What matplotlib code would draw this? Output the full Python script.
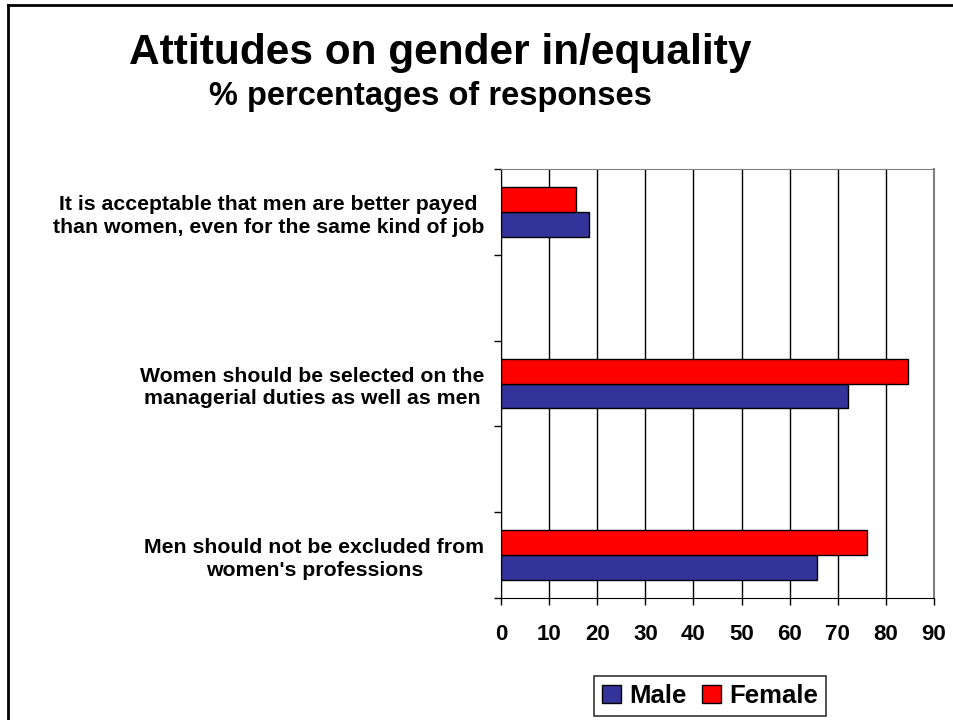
import matplotlib
matplotlib.use("Agg")
import matplotlib.pyplot as plt
from matplotlib.lines import Line2D
import numpy as np

plt.rcParams['font.family'] = ['Liberation Sans', 'DejaVu Sans']
plt.rcParams['font.weight'] = 'bold'

categories = [
    "It is acceptable that men are better payed\nthan women, even for the same kind of job",
    "Women should be selected on the\nmanagerial duties as well as men",
    "Men should not be excluded from\nwomen's professions",
]
male = [18.2, 72.1, 65.6]
female = [15.5, 84.6, 76.0]
x_ticks = [0, 10, 20, 30, 40, 50, 60, 70, 80, 90]

male_color = '#333399'
female_color = '#FF0000'

fig = plt.figure(figsize=(9.54, 7.2), dpi=100)
ax = fig.add_axes([501 / 954, 1 - 598 / 720, 433 / 954, 429 / 720])

# every category sits in every other slot, with an empty slot between
pos = np.arange(len(categories)) * 2
h = 0.29
ax.barh(pos + h / 2, male, height=h, color=male_color, edgecolor='black', linewidth=1, label='Male', zorder=3)
ax.barh(pos - h / 2, female, height=h, color=female_color, edgecolor='black', linewidth=1, label='Female', zorder=3)

ax.set_xlim(0, 90)
ax.set_ylim(pos[-1] + 0.5, pos[0] - 0.5)
ax.set_xticks(x_ticks)
ax.set_xticklabels([str(t) for t in x_ticks], fontsize=16, fontweight='bold')
ax.tick_params(axis='x', direction='out', length=5, width=1, pad=14)

ax.set_yticks(pos)
ax.set_yticklabels(categories, fontsize=15.3, fontweight='bold', multialignment='center',
                   linespacing=1.25)
ax.tick_params(axis='y', which='major', length=0, pad=12)
ax.set_yticks(np.arange(pos[0] - 0.5, pos[-1] + 1.0, 1.0), minor=True)
ax.tick_params(axis='y', which='minor', direction='out', length=5, width=1)

ax.grid(axis='x', color='black', linewidth=1, zorder=0)
ax.spines['left'].set_color('black')
ax.spines['bottom'].set_color('black')
ax.spines['top'].set_color('#808080')
ax.spines['right'].set_color('#808080')
ax.spines['right'].set_linewidth(1.5)

fig.text(440 / 954, 1 - 53 / 720, "Attitudes on gender in/equality", fontsize=30.5, fontweight='bold',
         ha='center', va='center')
fig.text(430 / 954, 1 - 97 / 720, "% percentages of responses", fontsize=23.5, fontweight='bold',
         ha='center', va='center')

leg = fig.legend(loc='center', bbox_to_anchor=(710 / 954, 1 - 696 / 720), ncol=2, frameon=True,
                 fancybox=False, edgecolor='black', prop={'size': 18.5, 'weight': 'bold'},
                 handlelength=0.75, handleheight=0.75, handletextpad=0.3, columnspacing=0.6,
                 borderpad=0.3)
leg.get_frame().set_linewidth(1.2)

# slide frame: left and top edges
fig.add_artist(Line2D([8 / 954, 8 / 954], [0, 1 - 5 / 720], transform=fig.transFigure, color='black', linewidth=2))
fig.add_artist(Line2D([8 / 954, 1], [1 - 5 / 720, 1 - 5 / 720], transform=fig.transFigure, color='black', linewidth=2))

fig.savefig('out.png', dpi=100)
